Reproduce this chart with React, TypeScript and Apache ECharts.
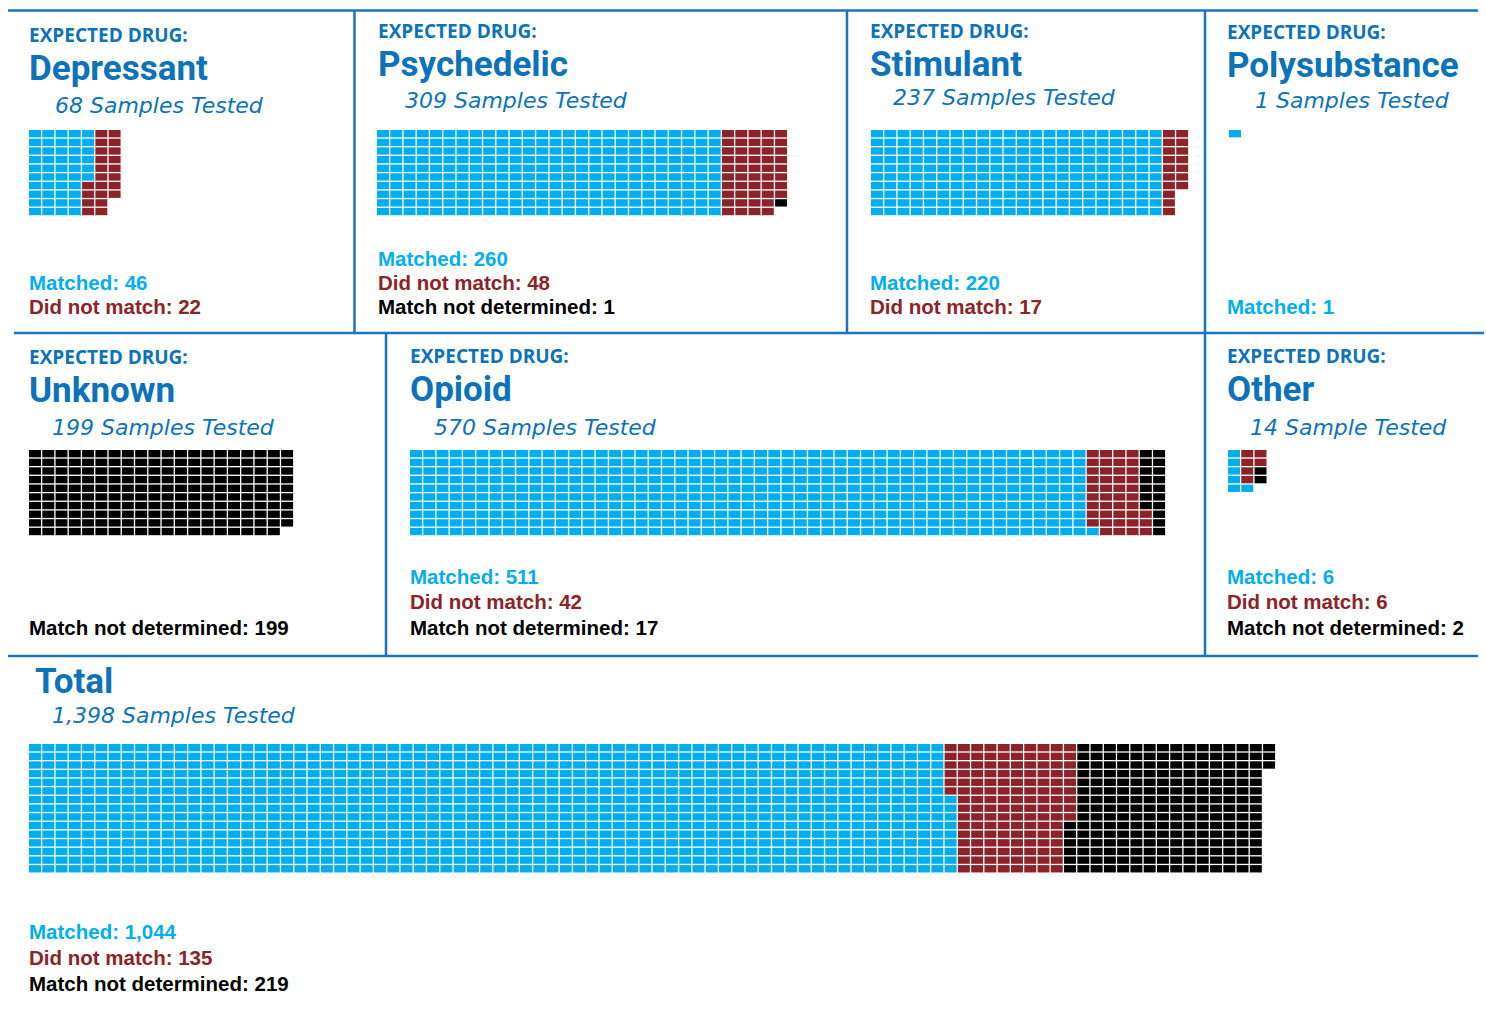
import { useEffect, useRef } from "react";
import * as echarts from "echarts";

// ---------- DATA ----------
const panelNames = ["Depressant", "Psychedelic", "Stimulant", "Polysubstance", "Unknown", "Opioid", "Other", "Total"];
const matched = [46, 260, 220, 1, 0, 511, 6, 1044];
const didNotMatch = [22, 48, 17, 0, 0, 42, 6, 135];
const notDetermined = [0, 1, 0, 0, 199, 17, 2, 219];
const samplesTested = [68, 309, 237, 1, 199, 570, 14, 1398];
const sampleWord = ["Samples", "Samples", "Samples", "Samples", "Samples", "Samples", "Sample", "Samples"];
const statLabels = ["Matched", "Did not match", "Match not determined"];
const headerLabel = "EXPECTED DRUG:";

// ---------- STYLE / LAYOUT ----------
const CELL_COLORS = ["#00AEEF", "#8C2328", "#000000"];
const TITLE_BLUE = "#0C72B9";
const LINE_BLUE = "#1A75BC";
const PX = 13.27;
const PY = 8.65;
const GAP = 1.3;
const FONT = "'Open Sans', Roboto, sans-serif";
const TITLE_FONT = "Roboto, 'Open Sans', sans-serif";
const SUB_FONT = "'DejaVu Sans', 'Open Sans', sans-serif";
const STAT_FONT = "'Liberation Sans', Arial, sans-serif";

type Layout = {
  x: number; headerY: number | null; titleX: number; titleY: number; subX: number; subY: number;
  wx: number; wy: number; rows: number; statsBottom: number; statsStep: number;
};
const layouts: Layout[] = [
  { x: 29, headerY: 35, titleX: 29, titleY: 68.8, subX: 55, subY: 105, wx: 29, wy: 130, rows: 10, statsBottom: 306, statsStep: 24 },
  { x: 378, headerY: 31.3, titleX: 378, titleY: 64.9, subX: 405, subY: 100, wx: 377, wy: 130, rows: 10, statsBottom: 306, statsStep: 24 },
  { x: 870, headerY: 31.3, titleX: 870, titleY: 64.9, subX: 893, subY: 97, wx: 871, wy: 130, rows: 10, statsBottom: 306, statsStep: 24 },
  { x: 1227, headerY: 32.2, titleX: 1227, titleY: 65.9, subX: 1255, subY: 100, wx: 1229, wy: 130, rows: 10, statsBottom: 306, statsStep: 24 },
  { x: 29, headerY: 357.2, titleX: 29, titleY: 390.9, subX: 52, subY: 427, wx: 29, wy: 450, rows: 10, statsBottom: 627, statsStep: 24 },
  { x: 410, headerY: 355.7, titleX: 410, titleY: 389.4, subX: 434, subY: 427, wx: 410, wy: 450, rows: 10, statsBottom: 627, statsStep: 25.5 },
  { x: 1227, headerY: 355.7, titleX: 1227, titleY: 389.4, subX: 1250, subY: 427, wx: 1228, wy: 450, rows: 5, statsBottom: 627, statsStep: 25.5 },
  { x: 29, headerY: null, titleX: 35, titleY: 681, subX: 52, subY: 715.5, wx: 29, wy: 744, rows: 15, statsBottom: 983, statsStep: 26 },
];

const dividerLines = [
  [8, 10.5, 1478, 10.5],
  [14, 333, 1484, 333],
  [8, 656, 1478, 656],
  [354.5, 10, 354.5, 333],
  [847, 10, 847, 333],
  [1205, 10, 1205, 333],
  [386, 333, 386, 656],
  [1205, 333, 1205, 656],
];

// serpentine column-major layout: even columns top-down, odd columns bottom-up, last partial column top-down
function waffleCells(counts: number[], rows: number) {
  const total = counts.reduce((a, b) => a + b, 0);
  const out: number[][] = [];
  let i = 0;
  counts.forEach((n, cat) => {
    for (let j = 0; j < n; j++, i++) {
      const col = Math.floor(i / rows);
      const k = i % rows;
      const full = (col + 1) * rows <= total;
      const row = full && col % 2 === 1 ? rows - 1 - k : k;
      out.push([col, row, cat]);
    }
  });
  return out;
}

export default function App() {
  const ref = useRef<HTMLDivElement>(null);
  useEffect(() => {
    if (!ref.current) return;
    const chart = echarts.init(ref.current, null, { renderer: "svg" });
    const grids: any[] = [];
    const xAxes: any[] = [];
    const yAxes: any[] = [];
    const series: any[] = [];
    const graphics: any[] = [];

    dividerLines.forEach(([x1, y1, x2, y2]) => {
      graphics.push({ type: "line", shape: { x1, y1, x2, y2 }, style: { stroke: LINE_BLUE, lineWidth: 2.5 }, silent: true });
    });

    panelNames.forEach((name, p) => {
      const L = layouts[p];
      const counts = [matched[p], didNotMatch[p], notDetermined[p]];
      const total = samplesTested[p];
      const cols = Math.ceil(total / L.rows);
      grids.push({ left: L.wx, top: L.wy, width: cols * PX, height: L.rows * PY, containLabel: false });
      xAxes.push({ type: "value", gridIndex: p, min: 0, max: cols, show: false });
      yAxes.push({ type: "value", gridIndex: p, min: 0, max: L.rows, inverse: true, show: false });
      series.push({
        type: "custom",
        xAxisIndex: p,
        yAxisIndex: p,
        data: waffleCells(counts, L.rows),
        encode: { x: 0, y: 1 },
        renderItem: (_params: any, api: any) => {
          const c = api.value(0);
          const r = api.value(1);
          const k = api.value(2);
          const a = api.coord([c, r]);
          const b = api.coord([c + 1, r + 1]);
          return {
            type: "rect",
            shape: { x: Math.min(a[0], b[0]), y: Math.min(a[1], b[1]), width: Math.abs(b[0] - a[0]) - GAP, height: Math.abs(b[1] - a[1]) - GAP },
            style: { fill: CELL_COLORS[k] },
          };
        },
        silent: true,
      });

      if (L.headerY !== null) {
        graphics.push({ type: "text", x: L.x, y: L.headerY, style: { text: headerLabel, font: `bold 19px ${FONT}`, fill: TITLE_BLUE, textVerticalAlign: "middle" } });
      }
      graphics.push({ type: "text", x: L.titleX, y: L.titleY, style: { text: name, font: `bold 35px ${TITLE_FONT}`, fill: TITLE_BLUE, textVerticalAlign: "middle" } });
      graphics.push({
        type: "text", x: L.subX, y: L.subY,
        style: { text: `${total.toLocaleString("en-US")} ${sampleWord[p]} Tested`, font: `italic 300 22px ${SUB_FONT}`, fill: TITLE_BLUE, textVerticalAlign: "middle" },
      });
      const lines = counts.map((v, k) => ({ v, k })).filter((d) => d.v > 0);
      lines.forEach((d, j) => {
        const y = L.statsBottom - (lines.length - 1 - j) * L.statsStep;
        graphics.push({
          type: "text", x: L.x, y,
          style: { text: `${statLabels[d.k]}: ${d.v.toLocaleString("en-US")}`, font: `bold 20.5px ${STAT_FONT}`, fill: CELL_COLORS[d.k], textVerticalAlign: "middle" },
        });
      });
    });

    chart.setOption({
      animation: false,
      backgroundColor: "#ffffff",
      grid: grids,
      xAxis: xAxes,
      yAxis: yAxes,
      series,
      graphic: graphics,
    });
    return () => chart.dispose();
  }, []);
  return <div ref={ref} style={{ position: "absolute", left: 0, top: 0, width: 1486, height: 1011, background: "#fff" }} />;
}
